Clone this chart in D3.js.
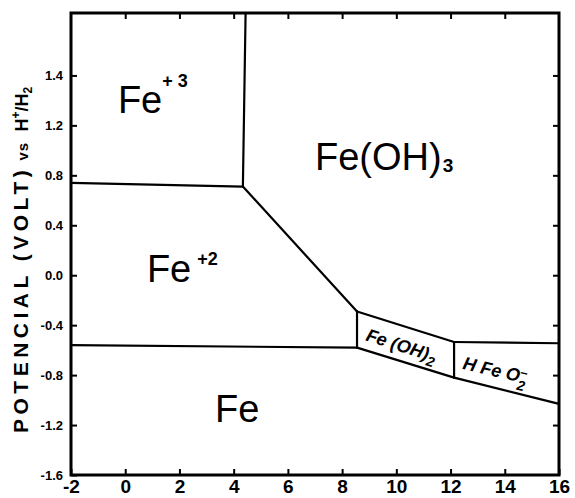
<!DOCTYPE html>
<html>
<head>
<meta charset="utf-8">
<script src="https://cdn.jsdelivr.net/npm/d3@7"></script>
<style>
  body { margin: 0; background: #fff; }
  svg { display: block; }
</style>
</head>
<body>
<svg id="chart"></svg>
<script>
// tick values and the labels as they are printed on the scan
const xTicks = [-2, 0, 2, 4, 6, 8, 10, 12, 14, 16];
const xTickLabels = ["-2", "0", "2", "4", "6", "8", "10", "12", "14", "16"];
const yTicks = [-1.6, -1.2, -0.8, -0.4, 0, 0.4, 0.8, 1.2, 1.6];
const yTickLabels = ["-1.6", "-1.2", "-0.8", "-0.4", "0.0", "0.4", "0.8", "1.2", "1.4"];

// domain boundaries, [pH, E] pairs
const boundaries = [
    [[-2, 0.74], [4.34, 0.71]],          // Fe+3 / Fe+2
    [[4.44, 2.1], [4.34, 0.71]],         // Fe+3 / Fe(OH)3
    [[4.34, 0.71], [8.55, -0.29]],       // Fe+2 / Fe(OH)3
    [[-2, -0.56], [8.55, -0.58]],        // Fe+2 / Fe
    [[8.55, -0.29], [8.55, -0.58]],      // Fe+2 / Fe(OH)2
    [[8.55, -0.29], [12.13, -0.535]],    // Fe(OH)3 / Fe(OH)2
    [[8.55, -0.58], [12.13, -0.82]],     // Fe(OH)2 / Fe
    [[12.13, -0.535], [12.13, -0.82]],   // Fe(OH)2 / HFeO2-
    [[12.13, -0.535], [16, -0.545]],     // Fe(OH)3 / HFeO2-
    [[12.13, -0.82], [16, -1.03]]        // HFeO2- / Fe
];

// big region labels: name, charge/subscript, anchor in pH / E
const regions = [
    {name: "Fe", sup: "+ 3", pH: -0.27, E: 1.30},
    {name: "Fe", sup: "+2", pH: 0.80, E: -0.054},
    {name: "Fe(OH)", sub: "3", pH: 7.0, E: 0.843},
    {name: "Fe", pH: 3.31, E: -1.175}
];
const smallRegions = [
    {name: "Fe (OH)", sub: "2", pH: 8.84, E: -0.52, angle: 18},
    {name: "H Fe O", sub: "2", sup: "\u2013", pH: 12.42, E: -0.75, angle: 13}
];

const width = 575, height = 498;
const svg = d3.select("#chart").attr("width", width).attr("height", height);

const x = d3.scaleLinear().domain([-2, 16]).range([71, 559]);
const y = d3.scaleLinear().domain([-1.6, 2.1]).range([475, 13]);

const font = "'Liberation Sans', Arial, sans-serif";

// ticks on all four sides, pointing inward
svg.append("g")
    .attr("transform", `translate(0,${y.range()[0]})`)
    .call(d3.axisBottom(x).tickValues(xTicks).tickSize(-6).tickPadding(5)
        .tickFormat((d, i) => xTickLabels[i]))
    .call(g => g.select(".domain").remove())
    .call(g => g.selectAll("text").style("font", `bold 19px ${font}`).attr("fill", "#000"));

svg.append("g")
    .attr("transform", `translate(0,${y.range()[1]})`)
    .call(d3.axisTop(x).tickValues(xTicks.slice(1, -1)).tickSize(-6).tickFormat(""))
    .call(g => g.select(".domain").remove());

svg.append("g")
    .attr("transform", `translate(${x.range()[0]},0)`)
    .call(d3.axisLeft(y).tickValues(yTicks).tickSize(-6).tickPadding(8)
        .tickFormat((d, i) => yTickLabels[i]))
    .call(g => g.select(".domain").remove())
    .call(g => g.selectAll("text").style("font", `bold 13px ${font}`).attr("fill", "#000"));

svg.append("g")
    .attr("transform", `translate(${x.range()[1]},0)`)
    .call(d3.axisRight(y).tickValues(yTicks.slice(1)).tickSize(-6).tickFormat(""))
    .call(g => g.select(".domain").remove());

svg.selectAll(".tick line").attr("stroke", "#000").attr("stroke-width", 2);

// frame
svg.append("rect")
    .attr("x", x.range()[0]).attr("y", y.range()[1])
    .attr("width", x.range()[1] - x.range()[0])
    .attr("height", y.range()[0] - y.range()[1])
    .attr("fill", "none").attr("stroke", "#000").attr("stroke-width", 3);

// boundaries
const line = d3.line().x(d => x(d[0])).y(d => y(d[1]));
svg.append("g")
    .attr("fill", "none")
    .attr("stroke", "#000")
    .attr("stroke-width", 2.2)
    .attr("stroke-linecap", "round")
    .selectAll("path")
    .data(boundaries)
    .join("path")
    .attr("d", line);

// region labels
const big = svg.append("g").attr("fill", "#000").style("font-family", font);
regions.forEach(r => {
    const t = big.append("text")
        .attr("x", x(r.pH)).attr("y", y(r.E))
        .style("font-size", "38px");
    t.append("tspan").text(r.name);
    if (r.sup) t.append("tspan")
        .attr("dx", r.sup === "+ 3" ? 0 : 6)
        .attr("dy", r.sup === "+ 3" ? -26 : -17)
        .style("font-size", "18px").style("font-weight", "bold")
        .text(r.sup);
    if (r.sub) t.append("tspan")
        .attr("dx", 1).attr("dy", 2)
        .style("font-size", "19px").style("font-weight", "bold")
        .text(r.sub);
});

const small = svg.append("g").attr("fill", "#000").style("font-family", font);
smallRegions.forEach(r => {
    const t = small.append("text")
        .attr("transform", `translate(${x(r.pH)},${y(r.E)}) rotate(${r.angle})`)
        .style("font-size", "18px").style("font-weight", "bold").style("font-style", "italic");
    t.append("tspan").text(r.name);
    if (r.sup) {
        t.append("tspan").attr("dy", -6).style("font-size", "13px").text(r.sup);
        t.append("tspan").attr("dx", -8).attr("dy", 14).style("font-size", "14px").text(r.sub);
    } else {
        t.append("tspan").attr("dy", 5).style("font-size", "14px").text(r.sub);
    }
});

// y-axis title
const title = svg.append("text")
    .attr("transform", "translate(28,433) rotate(-90)")
    .attr("fill", "#000")
    .style("font-family", font).style("font-weight", "bold");
title.append("tspan").style("font-size", "21px").style("letter-spacing", "4.5px")
    .text("POTENCIAL (VOLT)");
title.append("tspan").style("font-size", "15px").style("letter-spacing", "1px")
    .text("\u00a0vs\u00a0\u00a0");
title.append("tspan").style("font-size", "18px").text("H");
title.append("tspan").attr("dy", -8).style("font-size", "12px").text("+");
title.append("tspan").attr("dy", 8).style("font-size", "18px").text("/H");
title.append("tspan").attr("dy", 4).style("font-size", "12px").text("2");
</script>
</body>
</html>
